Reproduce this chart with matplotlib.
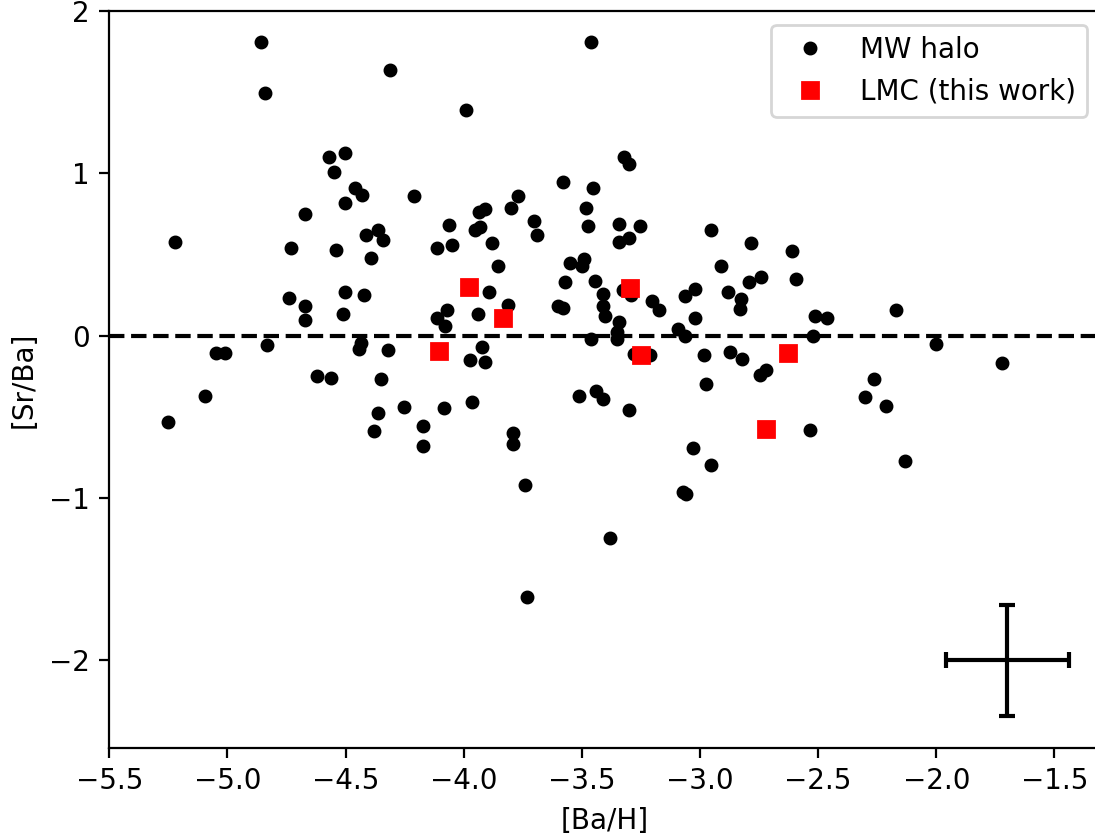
import matplotlib
matplotlib.use("Agg")
import matplotlib.pyplot as plt

# MW halo stars: [Ba/H], [Sr/Ba]
mw_bah = [-4.860, -4.311, -4.842, -4.571, -4.502, -4.550, -4.461, -4.430, -4.502, -4.212,
          -4.671, -5.220, -4.732, -4.541, -4.412, -4.361, -4.341, -4.391, -4.741, -4.501,
          -4.422, -3.461, -3.990, -3.322, -3.301, -3.582, -3.452, -3.771, -3.802, -3.911,
          -3.934, -3.482, -3.702, -4.061, -3.472, -3.342, -3.252, -3.931, -3.952, -3.692,
          -4.112, -4.051, -3.882, -3.342, -3.301, -2.952, -2.783, -3.853, -3.551, -3.491,
          -3.501, -2.912, -3.572, -3.443, -2.793, -2.742, -3.892, -3.411, -3.022, -3.062,
          -2.881, -3.325, -3.292, -3.203, -2.825, -2.612, -2.593, -4.671, -4.671, -4.511,
          -4.831, -5.050, -5.009, -4.433, -4.442, -4.322, -5.093, -5.251, -4.620, -4.561,
          -4.350, -4.251, -4.361, -4.381, -4.171, -4.171, -4.112, -4.072, -4.081, -3.941,
          -3.812, -3.603, -3.582, -3.411, -3.401, -3.342, -3.350, -3.350, -3.462, -3.172,
          -3.022, -3.093, -3.062, -2.832, -3.921, -3.972, -3.910, -3.280, -3.212, -2.983,
          -2.872, -2.822, -2.747, -2.722, -2.973, -3.512, -3.441, -3.411, -3.301, -4.082,
          -3.963, -3.790, -3.790, -3.031, -2.952, -2.512, -2.463, -2.522, -2.172, -2.003,
          -1.721, -2.263, -2.302, -2.212, -2.533, -2.133, -3.741, -3.072, -3.060, -3.382,
          -3.731]
mw_srba = [1.806, 1.638, 1.496, 1.098, 1.127, 1.008, 0.909, 0.868, 0.819, 0.858,
           0.749, 0.579, 0.540, 0.530, 0.618, 0.651, 0.591, 0.480, 0.232, 0.269,
           0.252, 1.806, 1.388, 1.100, 1.059, 0.948, 0.907, 0.858, 0.788, 0.780,
           0.759, 0.788, 0.708, 0.679, 0.677, 0.690, 0.677, 0.669, 0.648, 0.618,
           0.540, 0.558, 0.568, 0.579, 0.599, 0.648, 0.568, 0.431, 0.450, 0.472,
           0.427, 0.431, 0.328, 0.339, 0.328, 0.363, 0.269, 0.259, 0.289, 0.242,
           0.269, 0.279, 0.248, 0.212, 0.225, 0.519, 0.351, 0.180, 0.099, 0.131,
           -0.060, -0.109, -0.109, -0.047, -0.082, -0.088, -0.369, -0.530, -0.250, -0.261,
           -0.269, -0.439, -0.478, -0.589, -0.558, -0.677, 0.109, 0.160, 0.060, 0.131,
           0.191, 0.185, 0.168, 0.180, 0.119, 0.082, 0.020, -0.020, -0.018, 0.160,
           0.109, 0.043, 0.000, 0.166, -0.070, -0.150, -0.160, -0.111, -0.121, -0.121,
           -0.099, -0.142, -0.240, -0.209, -0.300, -0.371, -0.339, -0.388, -0.460, -0.448,
           -0.411, -0.599, -0.669, -0.690, -0.799, 0.119, 0.109, 0.000, 0.158, -0.049,
           -0.170, -0.269, -0.380, -0.431, -0.579, -0.770, -0.919, -0.961, -0.973, -1.248,
           -1.607]

# LMC stars (this work)
lmc_bah = [-4.105, -3.977, -3.833, -3.297, -3.251, -2.720, -2.628]
lmc_srba = [-0.092, 0.297, 0.109, 0.291, -0.121, -0.575, -0.107]

# Representative error bar
err_x, err_y = -1.70, -2.0
err_dx, err_dy = 0.26, 0.34

fig = plt.figure(figsize=(1095 / 200, 835 / 200), dpi=200)
ax = fig.add_axes([109.3 / 1095, 1 - 748 / 835, (1101 - 109.3) / 1095, (748 - 10.9) / 835])

ax.plot(mw_bah, mw_srba, 'o', color='k', markersize=4, linestyle='none', label='MW halo')
ax.plot(lmc_bah, lmc_srba, 's', color='red', markersize=6, linestyle='none', label='LMC (this work)')
ax.axhline(0, color='k', linestyle='--', linewidth=1.5)
ax.errorbar([err_x], [err_y], xerr=[err_dx], yerr=[err_dy], color='k', capsize=3,
            elinewidth=1.5, capthick=1.5, linestyle='none')

ax.set_xlim(-5.5, -1.303)
ax.set_ylim(-2.539, 2.0)
ax.set_xlabel('[Ba/H]')
ax.set_ylabel('[Sr/Ba]')
ax.legend(loc='upper right')

fig.savefig('out.png', dpi=200)
